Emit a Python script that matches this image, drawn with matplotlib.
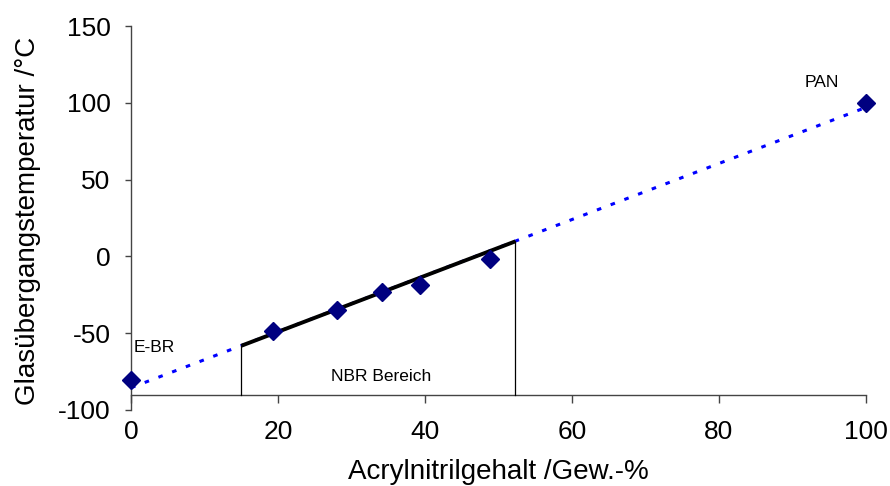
import numpy as np
import matplotlib
matplotlib.use("Agg")
import matplotlib.pyplot as plt

plt.rcParams['font.family'] = ['Liberation Sans', 'DejaVu Sans']
plt.rcParams['axes.unicode_minus'] = False

# measured points (Acrylnitrilgehalt, Tg)
acn = [0, 19.3, 28, 34.1, 39.3, 48.9, 100]
tg = [-80.5, -48.5, -35, -23, -18.5, -2, 100]

# linear trend over the whole range (dotted) and NBR range (solid)
trend_x = [0, 100]
trend_y = [-85.5, 97]
nbr_x = [15, 52.3]
nbr_y = [-58.2, 9.8]
axis_y = -90

fig = plt.figure(figsize=(8.9, 4.86), dpi=100)
ax = fig.add_axes([0.1472, 0.1564, 0.8258, 0.7901])

ax.plot(trend_x, trend_y, color='#0000ff', lw=2.2, linestyle=(0, (1.5, 3.3)), zorder=2)
ax.plot(nbr_x, nbr_y, color='black', lw=2.8, zorder=3, solid_capstyle='butt')
for xv, yv in zip(nbr_x, nbr_y):
    ax.plot([xv, xv], [axis_y, yv], color='black', lw=0.9, zorder=3)
ax.plot(acn, tg, linestyle='none', marker='D', color='#000080', markersize=9,
        zorder=4, clip_on=False)

ax.text(0.4, -59, 'E-BR', fontsize=12.5, ha='left', va='center')
ax.text(34, -78, 'NBR Bereich', fontsize=12.5, ha='center', va='center')
ax.text(94, 113, 'PAN', fontsize=12.5, ha='center', va='center')

ax.set_xlim(0, 100)
ax.set_ylim(-100, 150)
ax.set_xticks([0, 20, 40, 60, 80, 100])
ax.set_yticks([-100, -50, 0, 50, 100, 150])

ax.spines['top'].set_visible(False)
ax.spines['right'].set_visible(False)
ax.spines['bottom'].set_position(('data', axis_y))
for s in ['left', 'bottom']:
    ax.spines[s].set_color('#444444')
    ax.spines[s].set_linewidth(1.0)

ax.tick_params(axis='y', direction='out', length=4.3, width=1, color='#444444',
               labelsize=19, pad=10.5)
ax.tick_params(axis='x', direction='out', length=5.8, width=1, color='#444444',
               labelsize=19, pad=12.5)

ax.set_ylabel('Glasübergangstemperatur /°C', fontsize=20)
ax.set_xlabel('Acrylnitrilgehalt /Gew.-%', fontsize=20)
ax.xaxis.label.set_va('baseline')
ax.yaxis.set_label_coords(-0.123, 0.492)
ax.xaxis.set_label_coords(0.5, -0.179)

fig.savefig('out.png', dpi=100)
